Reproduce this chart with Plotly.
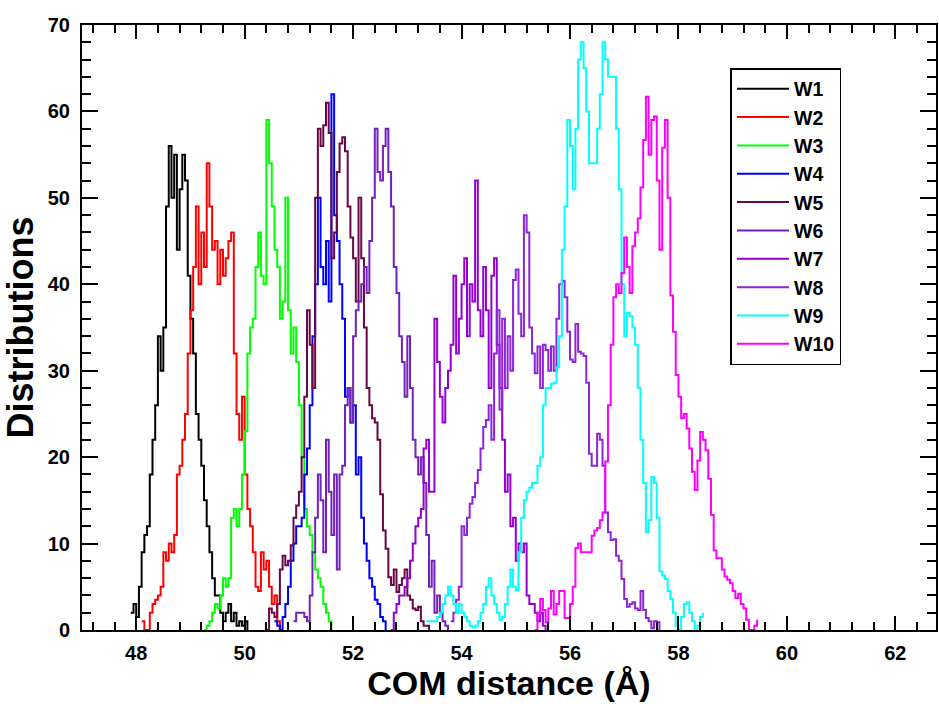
import plotly.graph_objects as go

BIN = 0.05

names = ["W1", "W2", "W3", "W4", "W5", "W6", "W7", "W8", "W9", "W10"]
colors = ["#000000", "#FF0000", "#00FF00", "#0000FF", "#670748",
          "#7221BC", "#9400D3", "#8E24D8", "#00FFFF", "#FF00FF"]

x_start = [47.90, 48.10, 49.25, 50.55, 50.40, 50.90, 52.70, 53.80, 53.35, 55.35]

w1 = [2, 3, 1.5, 5, 9, 11, 12, 18, 22, 26, 34, 30, 35, 49, 56, 50, 55, 44, 51, 55,
      52, 41, 36, 32, 25, 22, 19, 15, 12, 9, 6, 4, 4, 2, 1, 2, 3, 1, 2, 0.5, 1, 0.5, 1, 0]
w2 = [1, 0, 0, 2, 3, 3.5, 4, 5, 9, 8, 10, 9, 11, 18, 19, 22, 25, 32, 37, 42, 49, 40,
      46, 42, 54, 49, 44, 45, 40, 44, 41, 43, 45, 46, 32, 25, 22, 27, 18, 14, 12, 9,
      5, 4.5, 9, 7, 8, 5, 3, 4, 1, 0]
w3 = [0, 0.5, 1, 2, 3, 2.5, 4, 6, 5, 6, 13, 14, 12, 14, 18, 23, 32, 35, 36, 42, 46,
      41, 40, 59, 54, 49, 44, 42, 36, 38, 50, 37, 32, 35, 31, 26, 20, 14, 12, 11, 9,
      7, 6, 5, 3, 2, 1, 0]
w4 = [1, 0.5, 0, 1.5, 3, 5, 8, 10, 12, 12, 13, 18, 21, 26, 34, 40, 50, 42, 40, 45,
      38, 62, 48, 45, 40, 36, 27, 28, 24, 26, 18, 20, 13, 10, 8, 6, 5, 3.5, 3, 1.5, 1, 0]
w5 = [0, 2.5, 2, 1.5, 3, 7, 8.6, 7.5, 8, 9.8, 13, 14.4, 16, 20, 27, 37, 33, 28, 50,
      58, 56, 58.4, 61, 57.5, 43, 46, 53, 56.3, 57, 55.4, 49, 45.4, 43, 38, 50, 43,
      35, 28, 26, 24.5, 24, 22, 15.7, 11.5, 9.4, 6.1, 5.2, 7, 4.4, 5.2, 6, 7, 4,
      3.5, 2.5, 2.3, 2.7, 1, 0.5, 0.5, 0]
w6 = [1, 2, 2, 2, 1.5, 1, 4, 9, 13, 18, 15, 9, 22, 16, 11, 18, 7, 18, 19, 26, 28, 24,
      34, 37, 38, 40, 42, 39, 45, 50, 58, 53, 52, 56, 58, 53, 49, 42, 39, 34, 31, 27,
      34, 28, 22, 20, 18, 20, 17, 11, 5, 8, 2, 4, 2, 1, 0.5, 0]
w7 = [0, 2, 3, 4, 4, 5, 6, 8, 10, 12, 13, 14, 21, 22, 16, 16, 36, 31, 27, 24, 28, 30,
      33, 41, 32, 36, 40, 43, 34, 40, 38, 52, 37, 34, 42, 37, 28, 41, 43, 33, 28, 22,
      16, 18, 12, 13, 8, 10, 9, 10, 4, 3, 3, 2, 1, 2, 0.5, 0]
w8 = [1, 2, 3.5, 5, 12, 11, 13, 14.6, 15.4, 17, 18.5, 21, 23.5, 24.3, 26, 22, 32, 37,
      25.5, 36, 28, 34, 30, 40.5, 41.7, 36.6, 34, 48, 46, 35, 32, 29.7, 32.8, 28, 33,
      32.4, 30, 32.8, 30, 36, 40, 40.4, 38.5, 34.5, 31.3, 31, 35.4, 32.2, 32, 31.7,
      28.6, 20.4, 19, 19, 22.7, 22, 19, 13.6, 11.3, 10.4, 10.5, 8.6, 8, 5.9, 3.6, 2.7,
      3, 3.2, 2.5, 2.3, 4.5, 2.3, 1.4, 1, 0.2, 1, 0.9, 0]
w9 = [1, 1, 1, 1, 1.5, 2, 3, 4, 5, 4, 3, 2, 3, 2, 1.5, 1, 0.5, 0.3, 0.5, 1, 2, 3, 5,
      6, 4, 3, 2, 1.2, 1.5, 3, 5, 7, 5, 4.6, 9, 13, 15, 16, 16.5, 17, 17, 19, 20, 26,
      28, 28, 28.5, 28.6, 30.4, 34, 44, 49, 59, 56, 51, 58, 66, 68, 65, 60, 54, 54, 54,
      58, 62, 68, 66, 64, 64, 64, 58, 51, 40, 34, 36.7, 36.3, 35, 33, 28, 22, 17, 11.3,
      12.7, 17.7, 17, 13, 6.8, 6.3, 5.9, 4.5, 3.6, 2, 0.5, 0, 1.5, 3, 3.2, 2, 1, 0,
      0.5, 1.5, 2]
w10 = [0, 2, 3.6, 2.3, 0.9, 2.5, 4.5, 1.8, 3, 4.5, 4.5, 1.4, 1.4, 3, 5, 9.5, 10, 9, 9,
       9, 9, 10.9, 11.5, 11.8, 12.7, 13.6, 19.5, 26, 33, 38.5, 40, 39, 41.3, 45.4, 42,
       39, 44.4, 46, 47.6, 51.2, 56.7, 61.7, 55, 59, 59.4, 52, 44, 55.8, 59, 50, 38.7,
       34.5, 29.5, 27, 24.5, 25, 23.3, 21, 18.3, 16.2, 19.6, 22.9, 22, 20.8, 17.5,
       13.3, 9.2, 8.3, 8.3, 7, 6.2, 5.8, 5.4, 4.5, 3.7, 4.2, 3, 2.5, 1.2, 0, 0, 0.5, 1.2]

series = [w1, w2, w3, w4, w5, w6, w7, w8, w9, w10]

x_ticks = [48, 50, 52, 54, 56, 58, 60, 62]
y_ticks = [0, 10, 20, 30, 40, 50, 60, 70]

FONT = "Liberation Sans"

fig = go.Figure()
for nm, col, x0, vals in zip(names, colors, x_start, series):
    xs = [round(x0 + k * BIN, 4) for k in range(len(vals))]
    fig.add_trace(go.Scatter(
        x=xs, y=vals, mode="lines", name=nm, line=dict(color=col, width=2, shape="hv"),
        legendgroup=nm,
    ))

axis_common = dict(
    showline=True, linecolor="black", linewidth=2, mirror="allticks",
    ticks="inside", tickcolor="black", tickwidth=1.5,
    showgrid=False, zeroline=False,
    tickfont=dict(family=FONT, size=20, color="black", weight="bold"),
)

fig.update_layout(
    width=939, height=704,
    margin=dict(l=82, r=1, t=25, b=74),
    paper_bgcolor="white", plot_bgcolor="white",
    showlegend=True,
    legend=dict(
        x=(732 - 82) / 856, y=(630 - 68) / 605, xanchor="left", yanchor="top",
        bordercolor="black", borderwidth=1.5, bgcolor="white",
        font=dict(family=FONT, size=19.5, color="black", weight="bold"),
        tracegroupgap=0, traceorder="grouped", itemwidth=52,
    ),
    xaxis=dict(
        range=[47.0, 62.75], tickvals=x_ticks, ticklen=14, ticklabelstandoff=4,
        minor=dict(dtick=0.4, tick0=48, ticklen=8, ticks="inside", tickcolor="black", tickwidth=1.5),
        title=dict(text="COM distance (Å)", font=dict(family=FONT, size=34, color="black", weight="bold"), standoff=8),
        **axis_common,
    ),
    yaxis=dict(
        range=[0, 70], tickvals=y_ticks, ticklen=16, ticklabelstandoff=6,
        minor=dict(dtick=2, tick0=0, ticklen=9, ticks="inside", tickcolor="black", tickwidth=1.5),
        title=dict(text="Distributions", font=dict(family=FONT, size=36, color="black", weight="bold"), standoff=6),
        **axis_common,
    ),
)

fig.write_html("out.html")
